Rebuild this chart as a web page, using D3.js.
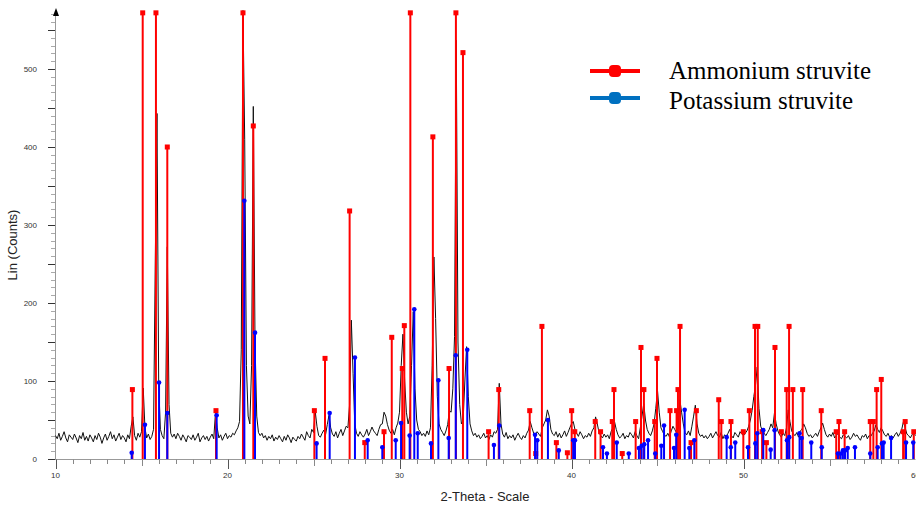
<!DOCTYPE html>
<html><head><meta charset="utf-8">
<script src="https://cdn.jsdelivr.net/npm/d3@7"></script>
<style>body{margin:0;background:#fff}svg{display:block}</style>
</head><body>
<svg id="c" width="916" height="508"></svg>
<script>
// ---- data ----
const traceStart = 10, traceStep = 0.1;
const traceCounts = [
30,26,33,24,29,35,27,22,31,28,
25,32,27,21,30,26,34,24,29,23,
31,27,22,30,25,33,28,20,27,32,
24,29,35,26,31,23,28,33,25,30,
27,22,31,26,42,54,30,24,33,28,
35,91,40,27,32,25,29,38,250,443,
95,38,30,26,60,272,70,33,28,32,
26,33,29,24,31,27,22,30,28,25,
31,24,28,33,22,27,30,25,29,23,
28,32,26,59,40,27,31,24,29,33,
26,30,28,33,31,36,40,48,140,575,
410,120,55,45,120,452,150,55,34,30,
33,27,30,24,29,26,31,23,28,25,
30,26,22,29,24,31,27,21,28,25,
23,29,26,32,28,24,35,30,27,38,
34,61,42,30,28,33,37,31,44,56,
40,32,29,35,27,33,38,30,36,42,
40,70,178,110,45,33,29,35,31,28,
32,38,30,35,41,36,33,30,38,44,
45,60,55,44,37,33,38,31,40,46,
60,120,160,100,60,45,55,120,189,90,
50,38,35,30,33,29,36,31,40,120,
259,180,80,45,38,34,30,36,44,62,
60,90,157,537,150,70,45,50,100,144,
80,45,36,30,33,28,31,26,29,33,
27,30,25,31,28,35,33,38,97,45,
32,28,34,26,30,27,31,24,29,33,
28,25,30,27,33,37,48,40,33,30,
35,32,29,40,45,50,63,55,38,32,
30,35,28,33,27,31,36,29,34,40,
45,48,38,33,29,35,31,26,30,28,
33,29,36,40,54,45,34,30,27,32,
28,31,26,35,40,48,38,31,27,29,
33,26,30,28,34,31,27,35,30,26,
40,55,71,50,38,33,30,36,45,65,
88,60,40,35,31,29,33,28,36,42,
38,34,40,76,60,45,34,31,36,30,
42,55,69,45,33,29,31,27,30,26,
29,33,27,31,35,30,28,34,26,31,
29,33,38,30,27,34,31,28,35,32,
30,33,36,42,50,62,80,95,118,65,
42,36,33,30,34,38,45,40,59,45,
36,31,28,33,30,40,63,48,36,32,
30,34,28,36,38,45,40,33,29,31,
27,30,33,29,35,40,46,38,31,28,
32,29,34,27,30,33,28,26,31,29,
27,30,25,28,33,29,31,27,24,30,
28,32,26,30,29,33,36,44,38,34,
40,36,31,29,33,28,30,27,31,34,
29,33,38,48,40,32,30,27,31,34,
30];

const ammoniumAngle = [14.47,15.07,15.84,16.50,19.33,20.90,21.50,25.05,25.67,27.10,27.98,29.10,29.55,30.16,30.28,30.63,31.94,32.88,33.28,33.69,35.18,35.77,37.57,37.92,38.28,39.12,39.76,40.01,40.19,41.38,41.69,42.37,42.47,42.95,43.73,44.04,44.21,44.84,44.97,45.73,46.11,46.19,46.31,46.95,47.26,48.56,48.71,49.27,49.99,50.34,50.67,50.83,51.08,51.33,51.83,52.20,52.51,52.65,52.87,53.44,54.52,55.39,55.55,55.88,57.37,57.55,57.74,58.01,59.28,59.40,59.90];
const ammoniumCounts = [89,572,572,400,62,572,427,62,129,318,21,35,156,116,171,572,413,116,572,521,35,89,62,7,170,21,8,62,35,48,35,48,89,7,48,143,89,48,129,62,62,89,170,21,62,76,48,48,35,62,170,170,35,21,143,35,89,170,89,89,62,35,48,35,48,48,89,102,35,48,35];

const potassiumAngle = [14.43,15.20,16.02,16.50,19.37,20.98,21.60,25.18,25.94,27.41,28.15,29.00,29.78,30.09,30.59,30.86,31.06,31.83,32.26,32.86,33.27,33.94,35.49,35.80,37.88,38.01,38.63,39.26,40.10,40.20,41.83,42.06,42.63,43.33,43.92,44.08,44.23,44.45,44.87,45.22,45.38,45.96,46.09,46.58,46.85,47.14,49.02,49.26,49.52,50.26,50.69,50.80,51.15,51.58,51.81,52.53,52.66,53.26,53.38,53.94,54.55,55.49,55.65,55.78,55.90,56.06,56.48,57.37,57.80,58.05,58.15,58.58,59.45,59.87];
const potassiumCounts = [8,44,98,59,56,331,162,20,59,130,24,15,24,46,30,192,33,20,101,27,133,140,18,43,31,24,50,11,24,24,15,7,21,7,14,17,19,24,7,17,43,14,31,63,14,24,28,15,21,15,20,33,37,12,37,24,28,33,27,21,15,7,7,11,11,14,15,7,15,20,21,27,21,21];

const xTicks = [10,20,30,40,50,60];
const yTicks = [0,100,200,300,400,500];
const seriesNames = ["Ammonium struvite","Potassium struvite"];

// ---- drawing ----
const svg = d3.select("#c");
const x = d3.scaleLinear().domain([10,60]).range([55.5,915.5]);
const y = d3.scaleLinear().domain([0,575]).range([459,10.5]);

const g = svg.append("g");
g.selectAll("line.ym").data(d3.range(0,571,10)).join("line")
  .attr("x1", d => d%50===0 ? 48 : 51).attr("x2",55.5)
  .attr("y1", d=>Math.round(y(d))+0.5).attr("y2", d=>Math.round(y(d))+0.5)
  .attr("stroke", d => d%50===0 ? "#333" : "#aaa").attr("stroke-width",1);
g.append("line").attr("x1",55.5).attr("x2",55.5).attr("y1",12).attr("y2",459).attr("stroke","#999");
g.append("path").attr("d","M53,16 L56,8 L59,16 Z").attr("fill","#000");
g.selectAll("text.yl").data(yTicks).join("text")
  .attr("x",37).attr("y",d=>y(d)+3).attr("text-anchor","end")
  .attr("font-family","Liberation Sans, Arial, sans-serif").attr("font-size",8).attr("fill","#333")
  .text(d=>d);

g.append("line").attr("x1",55.5).attr("x2",915.5).attr("y1",459.5).attr("y2",459.5).attr("stroke","#999");
g.selectAll("line.xm").data(d3.range(10,61,1)).join("line")
  .attr("x1",d=>Math.round(x(d))+0.5).attr("x2",d=>Math.round(x(d))+0.5)
  .attr("y1",459.5).attr("y2",d=> d%10===0 ? 469 : d%5===0 ? 466 : 464)
  .attr("stroke",d=> d%10===0 ? "#555" : "#888");
g.selectAll("text.xl").data(xTicks).join("text")
  .attr("x",d=>x(d)).attr("y",478).attr("text-anchor","middle")
  .attr("font-family","Liberation Sans, Arial, sans-serif").attr("font-size",8).attr("fill","#333")
  .text(d=>d);

svg.append("text").attr("transform","translate(17,245) rotate(-90)").attr("text-anchor","middle")
  .attr("font-family","Liberation Sans, Arial, sans-serif").attr("font-size",13).attr("fill","#222")
  .text("Lin (Counts)");
svg.append("text").attr("x",485).attr("y",501).attr("text-anchor","middle")
  .attr("font-family","Liberation Sans, Arial, sans-serif").attr("font-size",13).attr("fill","#222")
  .text("2-Theta - Scale");

const trace = traceCounts.map((c,i)=>[traceStart+i*traceStep, c]);
svg.append("path").datum(trace)
  .attr("d", d3.line().x(d=>x(d[0])).y(d=>y(d[1])))
  .attr("fill","none").attr("stroke","#111").attr("stroke-width",1);

const am = ammoniumAngle.map((a,i)=>({a, c:ammoniumCounts[i]}));
svg.append("g").selectAll("line").data(am).join("line")
  .attr("x1",d=>x(d.a)).attr("x2",d=>x(d.a)).attr("y1",459).attr("y2",d=>y(d.c))
  .attr("stroke","#ff0000").attr("stroke-width",2);
svg.append("g").selectAll("rect").data(am).join("rect")
  .attr("x",d=>x(d.a)-2.5).attr("y",d=>y(d.c)-2.5).attr("width",5).attr("height",5)
  .attr("fill","#ff0000");

const po = potassiumAngle.map((a,i)=>({a, c:potassiumCounts[i]}));
svg.append("g").selectAll("line").data(po).join("line")
  .attr("x1",d=>x(d.a)).attr("x2",d=>x(d.a)).attr("y1",459).attr("y2",d=>y(d.c))
  .attr("stroke","#0000ff").attr("stroke-width",2);
svg.append("g").selectAll("circle").data(po).join("circle")
  .attr("cx",d=>x(d.a)).attr("cy",d=>y(d.c)).attr("r",2.3)
  .attr("fill","#0000ff");

// legend
const legColors = ["#ff0000","#0070c0"];
const lg = svg.append("g");
seriesNames.forEach((n,i)=>{
  const ly = 71 + i*27;
  lg.append("line").attr("x1",590).attr("x2",640).attr("y1",ly).attr("y2",ly)
    .attr("stroke",legColors[i]).attr("stroke-width",4);
  lg.append("rect").attr("x",609).attr("y",ly-6).attr("width",12).attr("height",12).attr("rx",4)
    .attr("fill",legColors[i]);
  lg.append("text").attr("x",669).attr("y",79 + i*30).attr("font-family","Liberation Serif, Times New Roman, serif")
    .attr("font-size",25).attr("fill","#000").text(n);
});
</script>
</body></html>
